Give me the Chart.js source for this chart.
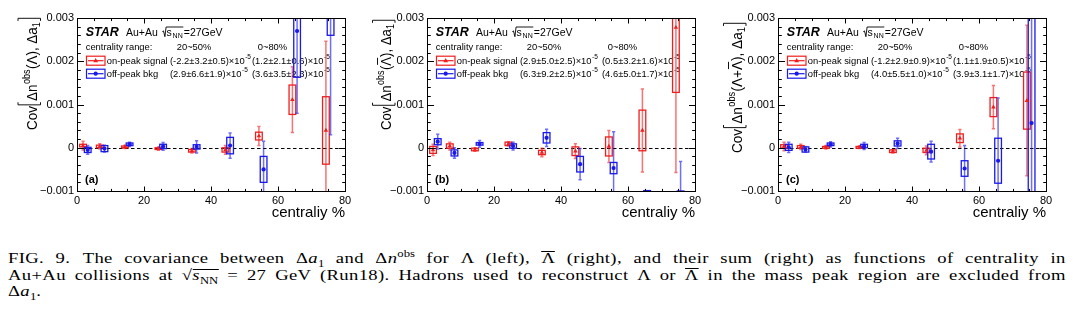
<!DOCTYPE html>
<html>
<head>
<meta charset="utf-8">
<script src="https://cdn.jsdelivr.net/npm/chart.js@4.4.1/dist/chart.umd.min.js"></script>
<style>
  html, body { margin: 0; padding: 0; background: #fff; }
  body { width: 1073px; height: 322px; position: relative; overflow: hidden; }
  canvas.panel { position: absolute; top: 0; }
  #caption {
    position: absolute; left: 8px; top: 250px; width: 853px;
    transform: scaleX(1.24); transform-origin: 0 0;
    font-family: "Liberation Serif", "Times New Roman", serif;
    font-size: 15px; color: #000; letter-spacing: 0.3px;
  }
  #caption .ln { height: 16.5px; line-height: 16.5px; }
  #caption .j { text-align: justify; text-align-last: justify; }
  #caption sub, #caption sup { font-size: 68%; line-height: 0; letter-spacing: 0; }
  #caption .gap { display: inline-block; width: 10px; }
  #caption .ov { display: inline-block; line-height: 11px; border-top: 1px solid #000; }
  #caption .bar { display: inline-block; line-height: 12px; border-top: 1px solid #000; }
</style>
</head>
<body>
<canvas id="panelA" class="panel" width="370" height="225" style="left:0px"></canvas>
<canvas id="panelB" class="panel" width="370" height="225" style="left:350px"></canvas>
<canvas id="panelC" class="panel" width="370" height="225" style="left:701px"></canvas>

<div id="caption">
  <div class="ln j">FIG. 9.<span class="gap"></span>The covariance between Δ<i>a</i><sub>1</sub> and Δ<i>n</i><sup>obs</sup> for Λ (left), <span class="bar">Λ</span> (right), and their sum (right) as functions of centrality in</div>
  <div class="ln j">Au+Au collisions at √<span class="ov"><i>s</i><sub>NN</sub></span> = 27 GeV (Run18). Hadrons used to reconstruct Λ or <span class="bar">Λ</span> in the mass peak region are excluded from</div>
  <div class="ln">Δ<i>a</i><sub>1</sub>.</div>
</div>

<script>
// centrality bin centres (%)
const centrality = [2.5, 7.5, 15, 25, 35, 45, 55, 65, 75];

// (a) Lambda
const lamOn       = [0.00005, 0.00003, 0.00002, -0.00002, -0.00007, -0.00005, 0.00027, 0.00111, 0.0004];
const lamOnStat   = [0.0001, 0.00006, 0.00004, 0.00004, 0.00005, 0.0001, 0.00022, 0.00076, 0.00206];
const lamOnSys    = [0.00003, 0.00003, 0.00002, 0.00002, 0.00003, 0.00005, 0.00009, 0.00034, 0.00078];
const lamOff      = [-0.00005, -0.00002, 0.00008, 0.00003, 0.00002, 0.00005, -0.0005, 0.0027, 0.0036];
const lamOffStat  = [0.0001, 0.00008, 0.00005, 0.00009, 0.00014, 0.00029, 0.00065, 0.0019, 0.0033];
const lamOffSys   = [0.00006, 0.00007, 0.00003, 0.00005, 0.00005, 0.00019, 0.0003, 0.00107, 0.001];

// (b) anti-Lambda
const alamOn      = [-0.00005, 0.00004, -0.00004, 0.00009, -0.00011, -0.00008, 0.00003, 0.0004, 0.00278];
const alamOnStat  = [0.00013, 0.00009, 0.00004, 0.00005, 0.0001, 0.00017, 0.00037, 0.00096, 0.00335];
const alamOnSys   = [0.00008, 0.00005, 0.00003, 0.00004, 0.00005, 0.0001, 0.00022, 0.00047, 0.0015];
const alamOff     = [0.00014, -0.00012, 0.00009, 0.00004, 0.00023, -0.00038, -0.00047, -0.0019, -0.0025];
const alamOffStat = [0.00017, 0.00012, 0.00008, 0.00009, 0.0002, 0.00036, 0.00084, 0.0008, 0.00218];
const alamOffSys  = [0.00007, 0.00007, 0.00003, 0.00005, 0.00012, 0.00018, 0.00013, 0.00091, 0.0015];

// (c) Lambda + anti-Lambda
const sumOn       = [0.00003, 0.00002, 0.00001, 0.00001, -0.00008, -0.00006, 0.00022, 0.00094, 0.00109];
const sumOnStat   = [0.0001, 0.00006, 0.00004, 0.00003, 0.00004, 0.0001, 0.0002, 0.0005, 0.00174];
const sumOnSys    = [0.00004, 0.00003, 0.00002, 0.00002, 0.00003, 0.00005, 0.0001, 0.00022, 0.00066];
const sumOff      = [0.00001, -0.00004, 0.00008, 0.00004, 0.0001, -0.00009, -0.00048, -0.0003, 0.00057];
const sumOffStat  = [0.00012, 0.00006, 0.00006, 0.00008, 0.00012, 0.00024, 0.00053, 0.00145, 0.004];
const sumOffSys   = [0.00007, 0.00006, 0.00003, 0.00004, 0.00006, 0.00017, 0.00018, 0.00052, 0.0026];

// axes
const xTicks = [0, 20, 40, 60, 80];
const yTicks = [-0.001, 0, 0.001, 0.002, 0.003];
const yTickLabels = ['\u22120.001', '0', '0.001', '0.002', '0.003'];

// integrated covariances quoted in the legend (x10^-5)
const rangeLabels = ['20~50%', '0~80%'];
const lamOnFit   = ['(-2.2\u00b13.2\u00b10.5)', '(1.2\u00b12.1\u00b10.6)'];
const lamOffFit  = ['(2.9\u00b16.6\u00b11.9)', '(3.6\u00b13.5\u00b12.3)'];
const alamOnFit  = ['(2.9\u00b15.0\u00b12.5)', '(0.5\u00b13.2\u00b11.6)'];
const alamOffFit = ['(6.3\u00b19.2\u00b12.5)', '(4.6\u00b15.0\u00b11.7)'];
const sumOnFit   = ['(-1.2\u00b12.9\u00b10.9)', '(1.1\u00b11.9\u00b10.5)'];
const sumOffFit  = ['(4.0\u00b15.5\u00b11.0)', '(3.9\u00b13.1\u00b11.7)'];

const SANS = '"Liberation Sans", Arial, Helvetica, sans-serif';
const RED = 'rgb(240,30,30)';
const RED_ERR = 'rgba(240,30,30,0.62)';
const BLUE = 'rgb(25,25,235)';
const BLUE_ERR = 'rgba(25,25,235,0.62)';

// per-panel decorations
const panels = {
  panelA: {
    letter: '(a)', onFit: lamOnFit, offFit: lamOffFit,
    title: [{t: 'Cov'}, {k: 'open'}, {t: '\u0394n'}, {t: 'obs', k: 'sup'}, {t: '(\u039b)'},
            {t: ', \u0394a'}, {t: '1', k: 'sub'}, {k: 'close'}],
    titleBase: -40.5, titleTop: 17, titleLen: 113
  },
  panelB: {
    letter: '(b)', onFit: alamOnFit, offFit: alamOffFit,
    title: [{t: 'Cov'}, {k: 'open'}, {t: '\u0394n'}, {t: 'obs', k: 'sup'}, {t: '('}, {t: '\u039b', k: 'bar'},
            {t: ')'}, {t: ', \u0394a'}, {t: '1', k: 'sub'}, {k: 'close'}],
    titleBase: -36, titleTop: 19, titleLen: 111
  },
  panelC: {
    letter: '(c)', onFit: sumOnFit, offFit: sumOffFit,
    title: [{t: 'Cov'}, {k: 'open'}, {t: '\u0394n'}, {t: 'obs', k: 'sup'}, {t: '(\u039b+'}, {t: '\u039b', k: 'bar'},
            {t: ')'}, {t: ', \u0394a'}, {t: '1', k: 'sub'}, {k: 'close'}],
    titleBase: -36, titleTop: 22, titleLen: 131
  }
};

function line(ctx, x1, y1, x2, y2) {
  ctx.beginPath(); ctx.moveTo(x1, y1); ctx.lineTo(x2, y2); ctx.stroke();
}

// value like (a±b±c)x10^-5
function drawPow(ctx, str, x, y) {
  ctx.font = `9.4px ${SANS}`;
  const s = str + '\u00d710';
  ctx.fillText(s, x, y);
  const w = ctx.measureText(s).width;
  ctx.font = `6.5px ${SANS}`;
  ctx.fillText('-5', x + w + 0.5, y - 4.5);
}

function drawMarker(ctx, kind, cx, cy, color) {
  ctx.fillStyle = color;
  ctx.beginPath();
  if (kind === 'triangle') {
    ctx.moveTo(cx, cy - 2.6); ctx.lineTo(cx + 2.4, cy + 1.6); ctx.lineTo(cx - 2.4, cy + 1.6);
    ctx.closePath();
  } else {
    ctx.arc(cx, cy, 2.1, 0, 2 * Math.PI);
  }
  ctx.fill();
}

function drawLegend(ctx, a, info) {
  const L = a.left, T = a.top;
  ctx.fillStyle = '#000';
  ctx.textAlign = 'left';
  ctx.textBaseline = 'alphabetic';

  // STAR Au+Au sqrt(s_NN)=27GeV
  const by = T + 17.7;
  ctx.font = `italic bold 12.5px ${SANS}`;
  ctx.fillText('STAR', L + 8.7, by);
  ctx.font = `10.5px ${SANS}`;
  ctx.fillText('Au+Au', L + 49, by);
  const sx = L + 85.3;
  ctx.font = `10.5px ${SANS}`;
  ctx.fillText('s', sx + 4.2, by);
  ctx.font = `7px ${SANS}`;
  ctx.fillText('NN', sx + 10.3, by + 2.5);
  ctx.font = `10.5px ${SANS}`;
  ctx.fillText('=27GeV', sx + 21.5, by);
  ctx.strokeStyle = '#000'; ctx.lineWidth = 0.9;
  ctx.beginPath();
  ctx.moveTo(sx, by - 4); ctx.lineTo(sx + 1.2, by - 4.8); ctx.lineTo(sx + 2.6, by + 1);
  ctx.lineTo(sx + 3.8, by - 8.7); ctx.lineTo(sx + 21, by - 8.7);
  ctx.stroke();

  // centrality header
  ctx.font = `9.4px ${SANS}`;
  ctx.fillText('centrality range:', L + 8.7, T + 31.7);
  ctx.fillText(rangeLabels[0], L + 99.7, T + 31.7);
  ctx.fillText(rangeLabels[1], L + 180.7, T + 31.7);

  const rows = [
    {yc: T + 42.7, color: RED, marker: 'triangle', label: 'on-peak signal', vals: info.onFit},
    {yc: T + 55.7, color: BLUE, marker: 'circle', label: 'off-peak bkg', vals: info.offFit}
  ];
  rows.forEach(r => {
    ctx.strokeStyle = r.color; ctx.lineWidth = 1.2;
    ctx.strokeRect(L + 9.5, r.yc - 4.5, 18.5, 9);
    line(ctx, L + 11, r.yc, L + 26.5, r.yc);
    drawMarker(ctx, r.marker, L + 18.7, r.yc, r.color);
    ctx.fillStyle = '#000';
    ctx.font = `9.4px ${SANS}`;
    ctx.fillText(r.label, L + 29.7, r.yc + 3);
    drawPow(ctx, r.vals[0], L + 93, r.yc + 3);
    drawPow(ctx, r.vals[1], L + 175, r.yc + 3);
  });
}

// rotated axis title with super/subscripts and large brackets
function drawYTitle(ctx, a, info) {
  const main = `15.5px ${SANS}`, small = `10.5px ${SANS}`;
  const pieces = info.title;
  let total = 0;
  pieces.forEach(p => {
    if (p.k === 'open' || p.k === 'close') { p.w = 6; }
    else { ctx.font = (p.k === 'sup' || p.k === 'sub') ? small : main; p.w = ctx.measureText(p.t).width + (p.k === 'sup' ? 1 : 0); }
    total += p.w;
  });
  ctx.save();
  ctx.translate(a.left + info.titleBase, info.titleTop);
  ctx.rotate(-Math.PI / 2);
  ctx.scale(info.titleLen / total, 1);
  ctx.fillStyle = '#000'; ctx.strokeStyle = '#000'; ctx.lineWidth = 1;
  ctx.textAlign = 'left'; ctx.textBaseline = 'alphabetic';
  let cx = -total;
  pieces.forEach(p => {
    if (p.k === 'open') {
      ctx.beginPath(); ctx.moveTo(cx + 4.5, -18.5); ctx.lineTo(cx + 1.5, -18.5); ctx.lineTo(cx + 1.5, 4); ctx.lineTo(cx + 4.5, 4); ctx.stroke();
    } else if (p.k === 'close') {
      ctx.beginPath(); ctx.moveTo(cx + 1.5, -18.5); ctx.lineTo(cx + 4.5, -18.5); ctx.lineTo(cx + 4.5, 4); ctx.lineTo(cx + 1.5, 4); ctx.stroke();
    } else if (p.k === 'sup') {
      ctx.font = small; ctx.fillText(p.t, cx + 0.5, -7);
    } else if (p.k === 'sub') {
      ctx.font = small; ctx.fillText(p.t, cx, 3);
    } else {
      ctx.font = main; ctx.fillText(p.t, cx, 0);
      if (p.k === 'bar') line(ctx, cx + 1, -13.5, cx + p.w - 1, -13.5);
    }
    cx += p.w;
  });
  ctx.restore();
}

const rootFrame = {
  id: 'rootFrame',
  beforeDatasetsDraw(chart) {
    const info = panels[chart.canvas.id];
    const {ctx, chartArea: a, scales: {x, y}} = chart;
    ctx.save();
    drawLegend(ctx, a, info);

    // dashed line at zero
    const y0 = Math.round(y.getPixelForValue(0)) + 0.5;
    ctx.strokeStyle = '#000'; ctx.lineWidth = 1.1;
    ctx.setLineDash([3.5, 2.5]);
    line(ctx, a.left, y0, a.right, y0);
    ctx.setLineDash([]);

    // systematic boxes and statistical error bars
    ctx.beginPath(); ctx.rect(a.left, a.top, a.width, a.height); ctx.clip();
    chart.data.datasets.forEach(ds => {
      ds.data.forEach((p, i) => {
        const px = x.getPixelForValue(p.x);
        const hw = x.getPixelForValue(p.x + 1) - px;
        const bt = y.getPixelForValue(p.y + ds.sys[i]);
        const bb = y.getPixelForValue(p.y - ds.sys[i]);
        ctx.strokeStyle = ds.borderColor; ctx.lineWidth = 1.3;
        ctx.strokeRect(px - hw, bt, 2 * hw, bb - bt);
        const et = y.getPixelForValue(p.y + ds.stat[i]);
        const eb = y.getPixelForValue(p.y - ds.stat[i]);
        ctx.strokeStyle = ds.errColor; ctx.lineWidth = 1.5;
        ctx.beginPath();
        ctx.moveTo(px, et); ctx.lineTo(px, eb);
        ctx.moveTo(px - 1.6, et); ctx.lineTo(px + 1.6, et);
        ctx.moveTo(px - 1.6, eb); ctx.lineTo(px + 1.6, eb);
        ctx.stroke();
      });
    });
    ctx.restore();
  },
  afterDraw(chart) {
    const info = panels[chart.canvas.id];
    const {ctx, chartArea: a, scales: {x, y}} = chart;
    ctx.save();
    ctx.strokeStyle = '#000'; ctx.lineWidth = 1;
    const l = Math.round(a.left) + 0.5, r = Math.round(a.right) + 0.5;
    const t = Math.round(a.top) + 0.5, b = Math.round(a.bottom) + 0.5;
    ctx.strokeRect(l, t, r - l, b - t);

    // inward ticks on all four sides
    for (let v = 0; v <= 80; v += 5) {
      const px = Math.round(x.getPixelForValue(v)) + 0.5;
      const len = v % 20 === 0 ? 5 : 2.6;
      line(ctx, px, b, px, b - len);
      line(ctx, px, t, px, t + len);
    }
    for (let i = -5; i <= 15; i++) {
      const py = Math.round(y.getPixelForValue(i * 0.0002)) + 0.5;
      const len = i % 5 === 0 ? 6.5 : 3.3;
      line(ctx, l, py, l + len, py);
      line(ctx, r, py, r - len, py);
    }

    ctx.fillStyle = '#000';
    ctx.font = `bold 11px ${SANS}`;
    ctx.textAlign = 'left'; ctx.textBaseline = 'alphabetic';
    ctx.fillText(info.letter, a.left + 8, a.bottom - 8);

    drawYTitle(ctx, a, info);
    ctx.restore();
  }
};

function points(values, shift) {
  return values.map((v, i) => ({x: centrality[i] + shift, y: v}));
}

function makePanel(id, on, onStat, onSys, off, offStat, offSys) {
  new Chart(document.getElementById(id), {
    type: 'scatter',
    data: {
      datasets: [
        {label: 'on-peak signal', data: points(on, -0.7), stat: onStat, sys: onSys,
         borderColor: RED, backgroundColor: RED, errColor: RED_ERR,
         pointStyle: 'triangle', pointRadius: 2.6, pointBorderWidth: 0},
        {label: 'off-peak bkg', data: points(off, 0.7), stat: offStat, sys: offSys,
         borderColor: BLUE, backgroundColor: BLUE, errColor: BLUE_ERR,
         pointStyle: 'circle', pointRadius: 2.1, pointBorderWidth: 0}
      ]
    },
    options: {
      responsive: false,
      animation: false,
      devicePixelRatio: 1,
      layout: {padding: {left: 0, right: 25, top: 18, bottom: 0}},
      plugins: {legend: {display: false}, tooltip: {enabled: false}},
      scales: {
        x: {
          type: 'linear', min: 0, max: 80,
          afterBuildTicks: s => { s.ticks = xTicks.map(v => ({value: v})); },
          afterFit: s => { s.height = 34; },
          grid: {display: false, drawTicks: false},
          border: {display: false},
          ticks: {color: '#000', font: {family: SANS, size: 11}, padding: 3, maxRotation: 0, autoSkip: false,
                  callback: v => String(v)},
          title: {display: true, text: 'centraliy %', align: 'end', color: '#000',
                  font: {family: SANS, size: 15}, padding: {top: 0, bottom: 3}}
        },
        y: {
          type: 'linear', min: -0.001, max: 0.003,
          afterBuildTicks: s => { s.ticks = yTicks.map(v => ({value: v})); },
          afterFit: s => { s.width = 77; },
          grid: {display: false, drawTicks: false},
          border: {display: false},
          ticks: {color: '#000', font: {family: SANS, size: 11}, padding: 3, autoSkip: false,
                  callback: (v, i) => yTickLabels[i]}
        }
      }
    },
    plugins: [rootFrame]
  });
}

makePanel('panelA', lamOn, lamOnStat, lamOnSys, lamOff, lamOffStat, lamOffSys);
makePanel('panelB', alamOn, alamOnStat, alamOnSys, alamOff, alamOffStat, alamOffSys);
makePanel('panelC', sumOn, sumOnStat, sumOnSys, sumOff, sumOffStat, sumOffSys);
</script>
</body>
</html>
